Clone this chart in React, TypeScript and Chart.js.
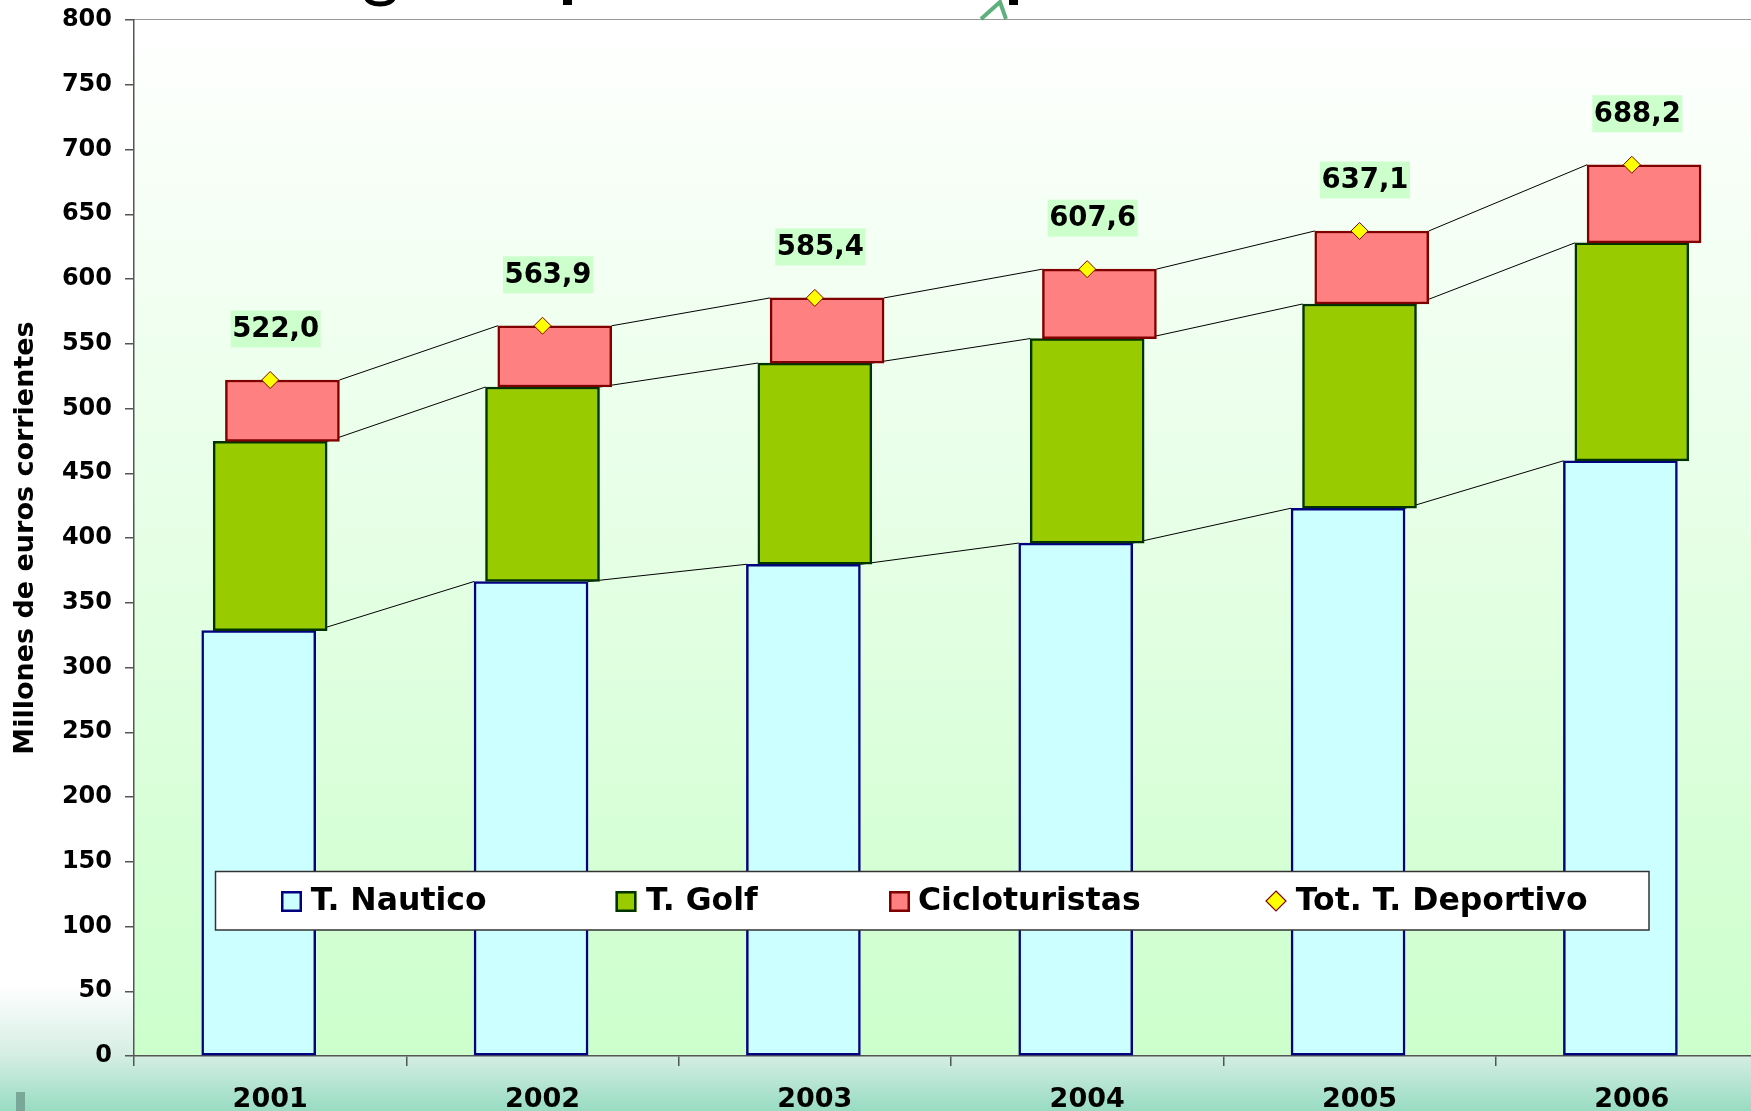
import React, { useEffect, useRef } from 'react';
import { Chart, registerables } from 'chart.js';

Chart.register(...registerables);

// ---- data ----
const years = ['2001', '2002', '2003', '2004', '2005', '2006'];
const nautico = [328.5, 366.4, 379.7, 396.1, 423.0, 459.6];
const golf = [146.1, 150.2, 155.4, 157.9, 157.7, 168.3];
const cicloturistas = [47.4, 47.3, 50.3, 53.6, 56.4, 60.3];
const totalDeportivo = [522.0, 563.9, 585.4, 607.6, 637.1, 688.2];
const seriesNames = ['T. Nautico', 'T. Golf', 'Cicloturistas', 'Tot. T. Deportivo'];
const yAxisTitle = 'Millones de euros corrientes';
const yMin = 0;
const yMax = 800;
const yStep = 50;

// ---- style ----
const FONT = '"DejaVu Sans", Verdana, sans-serif';
const CW = 1790;
const CH = 1125;
const OFFSETS = [-0.042, 0.0, 0.045];
const FILLS = ['#ccffff', '#99cc00', '#ff8080'];
const BORDERS = ['#000080', '#003300', '#800000'];

const fmt = (v: number) => v.toFixed(1).replace('.', ',');

const bgPlugin = {
  id: 'bgPlugin',
  beforeDraw(chart: any) {
    const { ctx, chartArea } = chart;
    ctx.save();
    ctx.fillStyle = '#ffffff';
    ctx.fillRect(0, 0, CW, CH);
    const g = ctx.createLinearGradient(0, 985, 0, 1111);
    g.addColorStop(0, '#ffffff');
    g.addColorStop(0.55, '#d6eee4');
    g.addColorStop(1, '#98dcc2');
    ctx.fillStyle = g;
    ctx.fillRect(0, 985, CW, CH - 985);
    const pg = ctx.createLinearGradient(0, chartArea.top, 0, chartArea.bottom);
    pg.addColorStop(0, '#ffffff');
    pg.addColorStop(1, '#ccffcc');
    ctx.fillStyle = pg;
    ctx.fillRect(chartArea.left, chartArea.top, chartArea.right - chartArea.left, chartArea.bottom - chartArea.top);
    ctx.strokeStyle = '#9a9a9a';
    ctx.lineWidth = 1;
    ctx.beginPath();
    ctx.moveTo(chartArea.left, chartArea.top - 0.5);
    ctx.lineTo(CW, chartArea.top - 0.5);
    ctx.stroke();
    // small cut-off decorations at the page edges
    ctx.fillStyle = '#7aa898';
    ctx.fillRect(16, 1092, 9, 30);
    ctx.strokeStyle = 'rgba(40,150,80,0.75)';
    ctx.lineWidth = 4;
    ctx.beginPath();
    ctx.moveTo(981, 19);
    ctx.lineTo(1000, 2);
    ctx.lineTo(1006, 19);
    ctx.stroke();
    ctx.fillStyle = '#000000';
    ctx.fillRect(1009, 0, 9, 5);
    ctx.fillRect(563, 0, 9, 5);
    ctx.beginPath();
    ctx.ellipse(380, -2, 13, 6, 0, 0, Math.PI);
    ctx.lineWidth = 5;
    ctx.strokeStyle = '#000000';
    ctx.stroke();
    ctx.restore();
  },
};

const seriesLinesPlugin = {
  id: 'seriesLines',
  beforeDatasetsDraw(chart: any) {
    const { ctx } = chart;
    ctx.save();
    ctx.strokeStyle = '#000000';
    ctx.lineWidth = 1;
    for (let d = 0; d < 3; d++) {
      const els = chart.getDatasetMeta(d).data;
      ctx.beginPath();
      for (let i = 0; i < els.length - 1; i++) {
        const a = els[i];
        const b = els[i + 1];
        ctx.moveTo(a.x + a.width / 2, a.y);
        ctx.lineTo(b.x - b.width / 2, b.y);
      }
      ctx.stroke();
    }
    ctx.restore();
  },
};

const labelsPlugin = {
  id: 'totLabels',
  afterDatasetsDraw(chart: any) {
    const { ctx } = chart;
    const els = chart.getDatasetMeta(3).data;
    ctx.save();
    ctx.font = `bold 27.5px ${FONT}`;
    ctx.textAlign = 'center';
    ctx.textBaseline = 'middle';
    els.forEach((p: any, i: number) => {
      const txt = fmt(totalDeportivo[i]);
      const w = ctx.measureText(txt).width + 3;
      const cx = p.x + 5.5;
      const cy = p.y - 51;
      ctx.fillStyle = '#ccffcc';
      ctx.fillRect(cx - w / 2, cy - 18.5, w, 37);
      ctx.fillStyle = '#000000';
      ctx.fillText(txt, cx, cy + 1);
    });
    ctx.restore();
  },
};

const legendPlugin = {
  id: 'boxLegend',
  afterDraw(chart: any) {
    const { ctx } = chart;
    ctx.save();
    const bx = 215.5, by = 871.5, bw = 1433.5, bh = 58.5;
    ctx.fillStyle = '#ffffff';
    ctx.fillRect(bx, by, bw, bh);
    ctx.strokeStyle = '#333333';
    ctx.lineWidth = 1.5;
    ctx.strokeRect(bx, by, bw, bh);
    const markerX = [281, 615.5, 889, 1266];
    const textX = [310.7, 646, 918, 1295.7];
    const my = 891;
    ctx.font = `bold 31.5px ${FONT}`;
    ctx.textBaseline = 'middle';
    ctx.textAlign = 'left';
    for (let k = 0; k < 4; k++) {
      if (k < 3) {
        ctx.fillStyle = FILLS[k];
        ctx.fillRect(markerX[k], my, 21, 21);
        ctx.strokeStyle = BORDERS[k];
        ctx.lineWidth = 2.5;
        ctx.strokeRect(markerX[k] + 1.25, my + 1.25, 18.5, 18.5);
      } else {
        const cx = markerX[k] + 10, cy = my + 10;
        ctx.beginPath();
        ctx.moveTo(cx, cy - 10);
        ctx.lineTo(cx + 10, cy);
        ctx.lineTo(cx, cy + 10);
        ctx.lineTo(cx - 10, cy);
        ctx.closePath();
        ctx.fillStyle = '#ffff00';
        ctx.fill();
        ctx.strokeStyle = '#800000';
        ctx.lineWidth = 1.2;
        ctx.stroke();
      }
      ctx.fillStyle = '#000000';
      ctx.fillText(seriesNames[k], textX[k], 902);
    }
    ctx.restore();
  },
};

export default function App() {
  const ref = useRef<HTMLCanvasElement | null>(null);

  useEffect(() => {
    document.body.style.margin = '0';
    document.body.style.overflow = 'hidden';
    const canvas = ref.current;
    if (!canvas) return;

    const cum1 = nautico.map((v, i) => v + golf[i]);
    const barDs = (k: number, label: string, vals: number[], base: number[]) => ({
      type: 'bar' as const,
      label,
      data: vals.map((v, i) => ({ x: i + OFFSETS[k], y: [base[i], base[i] + v] })),
      xAxisID: 'x',
      yAxisID: 'y',
      grouped: false,
      barThickness: 114,
      backgroundColor: FILLS[k],
      borderColor: BORDERS[k],
      borderWidth: 2.5,
      borderSkipped: false,
      order: 3 - k,
    });

    const chart = new Chart(canvas, {
      type: 'bar',
      data: {
        labels: years,
        datasets: [
          barDs(0, seriesNames[0], nautico, nautico.map(() => 0)),
          barDs(1, seriesNames[1], golf, nautico),
          barDs(2, seriesNames[2], cicloturistas, cum1),
          {
            type: 'line' as const,
            label: seriesNames[3],
            data: totalDeportivo.map((v, i) => ({ x: i, y: v })),
            xAxisID: 'x',
            yAxisID: 'y',
            showLine: false,
            pointStyle: 'rectRot',
            pointRadius: 8.5,
            pointBackgroundColor: '#ffff00',
            pointBorderColor: '#800000',
            pointBorderWidth: 1,
            order: 0,
          } as any,
        ],
      },
      options: {
        responsive: false,
        animation: false,
        layout: { padding: { left: 0, top: 20, right: CW - 1768, bottom: 0 } },
        plugins: {
          legend: { display: false },
          tooltip: { enabled: false },
          title: { display: false },
        },
        scales: {
          x: {
            type: 'linear',
            display: false,
            min: -0.5,
            max: years.length - 0.5,
            offset: false,
          },
          xc: {
            type: 'category',
            position: 'bottom',
            labels: years,
            offset: true,
            grid: {
              offset: true,
              drawOnChartArea: false,
              drawTicks: true,
              tickLength: 10,
              color: '#555555',
              lineWidth: 1.5,
            },
            border: { display: true, color: '#555555', width: 1.5 },
            ticks: {
              color: '#000000',
              font: { family: FONT, size: 27, weight: 'bold' },
              padding: 18,
              maxRotation: 0,
              autoSkip: false,
            },
            afterFit: (s: any) => {
              s.height = CH - 1056;
              s.paddingLeft = 0;
              s.paddingRight = 0;
            },
          },
          y: {
            type: 'linear',
            position: 'left',
            min: yMin,
            max: yMax,
            ticks: {
              stepSize: yStep,
              color: '#000000',
              font: { family: FONT, size: 24, weight: 'bold' },
              padding: 13,
            },
            grid: {
              drawOnChartArea: false,
              drawTicks: true,
              tickLength: 9,
              color: '#555555',
              lineWidth: 1.5,
            },
            border: { display: true, color: '#555555', width: 1.5 },
            title: {
              display: true,
              text: yAxisTitle,
              color: '#000000',
              font: { family: FONT, size: 27, weight: 'bold' },
              padding: { top: 10, bottom: 0 },
            },
            afterFit: (s: any) => {
              s.width = 134;
              s.paddingTop = 0;
              s.paddingBottom = 0;
            },
          },
        },
      } as any,
      plugins: [bgPlugin, seriesLinesPlugin, labelsPlugin, legendPlugin],
    });

    return () => chart.destroy();
  }, []);

  return (
    <div
      style={{
        position: 'fixed',
        left: 0,
        top: 0,
        width: 1751,
        height: 1111,
        overflow: 'hidden',
        background: '#ffffff',
      }}
    >
      <canvas ref={ref} width={CW} height={CH} style={{ display: 'block' }} />
    </div>
  );
}
